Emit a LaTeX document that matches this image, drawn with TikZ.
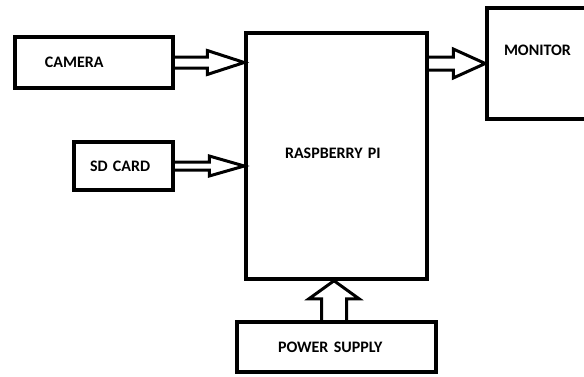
\documentclass[tikz,border=0pt]{standalone}
\usepackage{fontspec}
\setmainfont{Carlito}
\usetikzlibrary{calc}

\tikzset{
  box/.style={draw,line width=3.5pt,align=left,font=\bfseries\fontsize{16}{19}\selectfont},
  arr/.style={line width=3pt,line join=miter}
}

% hollow block arrow: from, to, shaft half, head half, head length
\newcommand{\harrow}[5]{%
  \draw[arr] let \p1=(#1), \p2=(#2) in
    (\x1,\y1+#3) -- (\x2-#5,\y1+#3) -- (\x2-#5,\y1+#4) -- (\x2,\y1)
    -- (\x2-#5,\y1-#4) -- (\x2-#5,\y1-#3) -- (\x1,\y1-#3);}

\begin{document}
\begin{tikzpicture}[x=1pt,y=1pt]
  \clip (0,0) rectangle (584,376);
  \fill[white] (0,0) rectangle (584,376);

  \node[box,inner xsep=30pt,text width=98pt,minimum height=51pt] (cam) at (94,313.5) {CAMERA};
  \node[box,inner xsep=16pt,text width=67pt,minimum height=48pt] (sd) at (123.5,210) {SD CARD};
  \node[box,inner xsep=39pt,text width=103pt,minimum height=246pt,text depth=6pt] (rpi) at (336.5,220) {RASPBERRY PI};
  \node[box,inner xsep=17pt,text width=71pt,minimum height=111pt,text depth=27pt] (mon) at (539.5,312.5) {MONITOR};
  \node[box,inner xsep=41pt,text width=117pt,minimum height=50pt] (psu) at (336.5,29) {POWER SUPPLY};

  \harrow{cam.east}{rpi.west |- cam.east}{5.5pt}{12pt}{37pt}
  \harrow{sd.east}{rpi.west |- sd.east}{4pt}{10pt}{35pt}
  \harrow{rpi.east |- mon.west}{mon.west}{6.5pt}{14.5pt}{32pt}

  \draw[arr] let \p1=($(psu.north)+(-2.5,0)$), \p2=(rpi.south) in
    (\x1-12.5pt,\y1) -- (\x1-12.5pt,\y2-18pt) -- (\x1-25pt,\y2-18pt) -- (\x1,\y2)
    -- (\x1+25pt,\y2-18pt) -- (\x1+12.5pt,\y2-18pt) -- (\x1+12.5pt,\y1);
\end{tikzpicture}
\end{document}
